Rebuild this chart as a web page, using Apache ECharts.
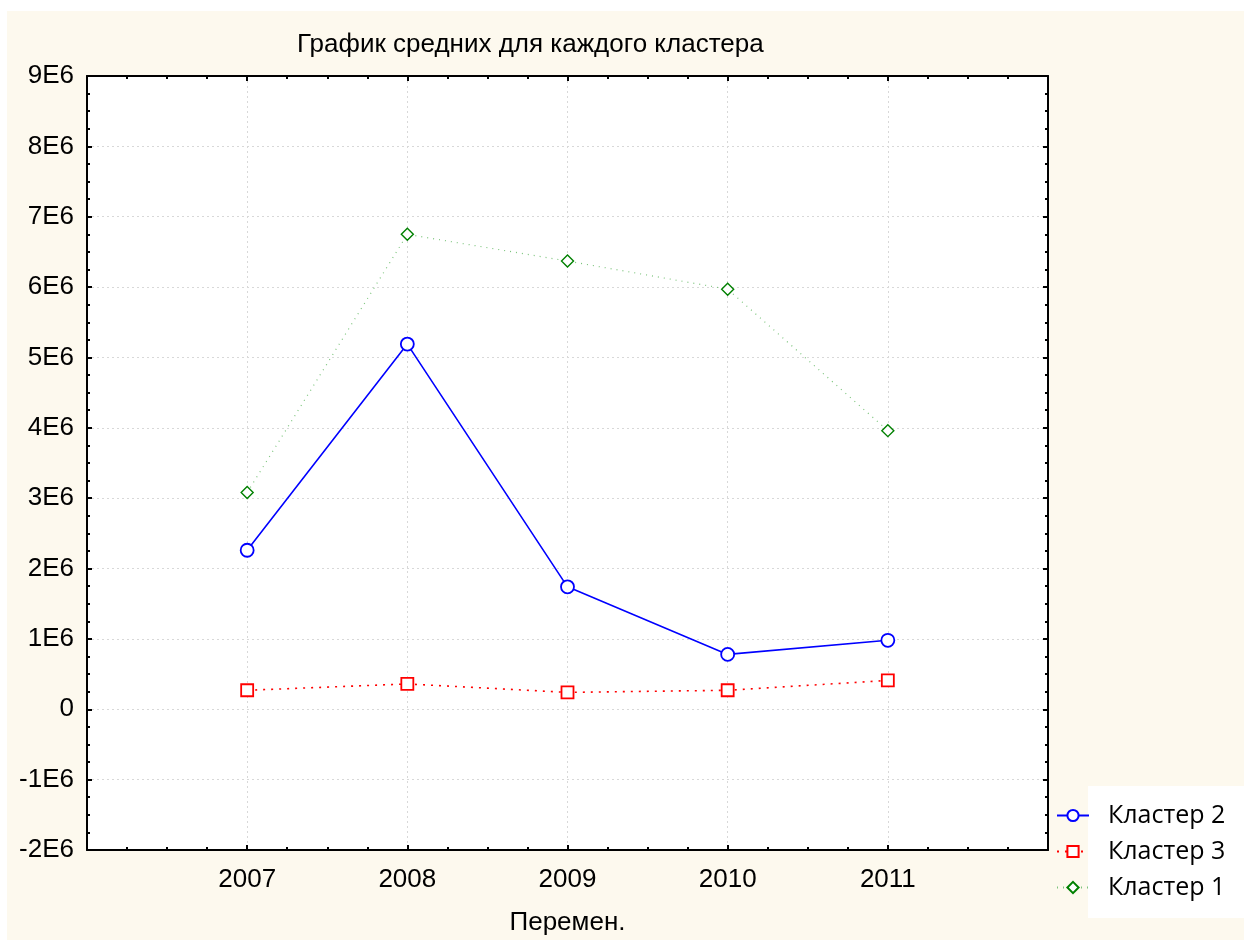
<!DOCTYPE html>
<html><head><meta charset="utf-8">
<script src="https://cdn.jsdelivr.net/npm/echarts@6/dist/echarts.min.js"></script>
<style>html,body{margin:0;padding:0;background:#fff}#c{width:1244px;height:940px}</style>
</head><body><div id="c"></div>
<script>
const years = [2007, 2008, 2009, 2010, 2011];
const seriesNames = ['Кластер 2', 'Кластер 3', 'Кластер 1'];
const cluster2 = [2.26e6, 5.19e6, 1.74e6, 0.78e6, 0.98e6];
const cluster3 = [0.27e6, 0.36e6, 0.24e6, 0.27e6, 0.41e6];
const cluster1 = [3.08e6, 6.75e6, 6.37e6, 5.97e6, 3.96e6];
const yTicks = ['-2E6','-1E6','0','1E6','2E6','3E6','4E6','5E6','6E6','7E6','8E6','9E6'];

const pairs = arr => years.map((y, i) => [y, arr[i]]);
const font = '"Liberation Sans", Arial, sans-serif';
const chart = echarts.init(document.getElementById('c'));
const gridLine = {show: true, lineStyle: {color: '#d8d8d8', type: [2, 3], width: 1}};
const axLine = {show: true, onZero: false, lineStyle: {color: '#000', width: 2}};
const tick = {show: true, inside: true, length: 5, lineStyle: {color: '#000', width: 2}};
const minor = {show: true, splitNumber: 4, length: 3, lineStyle: {color: '#000', width: 2}};
chart.setOption({
  animation: false,
  backgroundColor: '#ffffff',
  graphic: [
    {type: 'rect', z: -10, shape: {x: 7, y: 11, width: 1237, height: 929}, style: {fill: '#fdf9ee'}},
    {type: 'rect', z: -5, shape: {x: 1088, y: 786, width: 156, height: 132}, style: {fill: '#ffffff'}}
  ],
  title: {text: 'График средних для каждого кластера', left: 292, top: 27,
    textStyle: {fontFamily: font, fontSize: 26, fontWeight: 'normal', color: '#000'}},
  legend: {orient: 'vertical', left: 1056, top: 803, padding: 0, itemWidth: 32, itemHeight: 14, itemGap: 11,
    data: seriesNames,
    textStyle: {fontFamily: '"Open Sans", "Noto Sans", sans-serif', fontSize: 25, color: '#000', padding: [0,0,0,14]}},
  grid: {left: 87, right: 196, top: 76, bottom: 90, outerBoundsMode: 'none', containLabel: false,
    backgroundColor: '#fff', show: true, borderWidth: 0},
  xAxis: [
    {type: 'value', min: 2006, max: 2012, interval: 1, position: 'bottom',
      name: 'Перемен.', nameLocation: 'middle', nameGap: 60,
      nameTextStyle: {fontFamily: font, fontSize: 26, color: '#000'},
      axisLine: axLine, axisTick: tick, minorTick: minor,
      axisLabel: {fontFamily: font, fontSize: 26, color: '#000', margin: 17,
        formatter: v => (v >= 2007 && v <= 2011) ? String(years[v - 2007]) : ''},
      splitLine: gridLine},
    {type: 'value', min: 2006, max: 2012, interval: 1, position: 'top',
      axisLine: axLine, axisTick: tick, minorTick: minor,
      axisLabel: {show: false}, splitLine: {show: false}}
  ],
  yAxis: [
    {type: 'value', min: -2e6, max: 9e6, interval: 1e6, position: 'left',
      axisLine: axLine, axisTick: tick, minorTick: minor,
      axisLabel: {fontFamily: font, fontSize: 26, color: '#000', margin: 13,
        formatter: v => yTicks[Math.round(v / 1e6) + 2]},
      splitLine: gridLine},
    {type: 'value', min: -2e6, max: 9e6, interval: 1e6, position: 'right',
      axisLine: axLine, axisTick: tick, minorTick: minor,
      axisLabel: {show: false}, splitLine: {show: false}}
  ],
  series: [
    {name: seriesNames[0], type: 'line', data: pairs(cluster2), symbol: 'circle', symbolSize: 13,
      itemStyle: {color: '#fff', borderColor: '#0000ff', borderWidth: 1.8},
      lineStyle: {color: '#0000ff', width: 1.6}, color: '#0000ff'},
    {name: seriesNames[1], type: 'line', data: pairs(cluster3), symbol: 'rect', symbolSize: 12,
      itemStyle: {color: '#fff', borderColor: '#ff0000', borderWidth: 1.8},
      lineStyle: {color: '#ff0000', width: 1.6, type: [2, 6]}, color: '#ff0000'},
    {name: seriesNames[2], type: 'line', data: pairs(cluster1), symbol: 'diamond', symbolSize: 12,
      itemStyle: {color: '#fff', borderColor: '#008000', borderWidth: 1.4},
      lineStyle: {color: '#7cc47c', width: 1.2, type: [1, 5]}, color: '#008000'}
  ]
});
</script></body></html>
